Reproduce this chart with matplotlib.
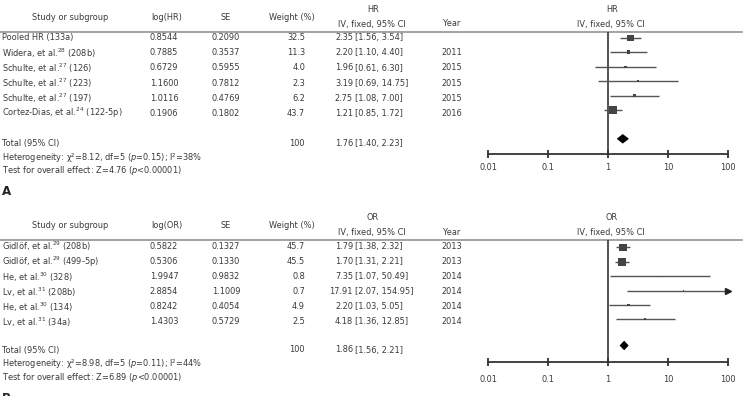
import matplotlib.pyplot as plt
from matplotlib import font_manager
import numpy as np

# pick the narrowest installed sans family
fonts = [(f.name, f.stretch) for f in font_manager.fontManager.ttflist]
names = {n for n, s in fonts}
if 'Liberation Sans Narrow' in names:
    FAM, STRETCH, FS = 'Liberation Sans Narrow', 'normal', 7.2
elif ('DejaVu Sans', 'condensed') in fonts or ('DejaVu Sans', 'semi-condensed') in fonts:
    FAM, STRETCH, FS = 'DejaVu Sans', 'condensed', 6.6
else:
    FAM, STRETCH, FS = 'Liberation Sans', 'normal', 6.4

plt.rcParams['font.family'] = [FAM, 'DejaVu Sans']
plt.rcParams['font.stretch'] = STRETCH
plt.rcParams['mathtext.fontset'] = 'custom'
plt.rcParams['mathtext.rm'] = FAM
plt.rcParams['mathtext.it'] = FAM + ':italic'

W, H = 754, 396
TXT = '#3a3a3a'
MARK = '#444444'

# panel A (HR)
studies_a = ['Pooled HR (133a)', 'Widera, et al.$^{28}$ (208b)', 'Schulte, et al.$^{27}$ (126)',
             'Schulte, et al.$^{27}$ (223)', 'Schulte, et al.$^{27}$ (197)',
             'Cortez-Dias, et al.$^{24}$ (122-5p)']
log_a = [0.8544, 0.7885, 0.6729, 1.1600, 1.0116, 0.1906]
se_a = [0.2090, 0.3537, 0.5955, 0.7812, 0.4769, 0.1802]
weight_a = [32.5, 11.3, 4.0, 2.3, 6.2, 43.7]
est_a = [2.35, 2.20, 1.96, 3.19, 2.75, 1.21]
lo_a = [1.56, 1.10, 0.61, 0.69, 1.08, 0.85]
hi_a = [3.54, 4.40, 6.30, 14.75, 7.00, 1.72]
year_a = ['', '2011', '2015', '2015', '2015', '2016']
total_a = [1.76, 1.40, 2.23]
het_a = r'Heterogeneity: χ²=8.12, df=5 ($p$=0.15); I²=38%'
test_a = r'Test for overall effect: Z=4.76 ($p$<0.00001)'

# panel B (OR)
studies_b = ['Gidlöf, et al.$^{29}$ (208b)', 'Gidlöf, et al.$^{29}$ (499-5p)', 'He, et al.$^{30}$ (328)',
             'Lv, et al.$^{31}$ (208b)', 'He, et al.$^{30}$ (134)', 'Lv, et al.$^{31}$ (34a)']
log_b = [0.5822, 0.5306, 1.9947, 2.8854, 0.8242, 1.4303]
se_b = [0.1327, 0.1330, 0.9832, 1.1009, 0.4054, 0.5729]
weight_b = [45.7, 45.5, 0.8, 0.7, 4.9, 2.5]
est_b = [1.79, 1.70, 7.35, 17.91, 2.20, 4.18]
lo_b = [1.38, 1.31, 1.07, 2.07, 1.03, 1.36]
hi_b = [2.32, 2.21, 50.49, 154.95, 5.05, 12.85]
year_b = ['2013', '2013', '2014', '2014', '2014', '2014']
total_b = [1.86, 1.56, 2.21]
het_b = r'Heterogeneity: χ²=8.98, df=5 ($p$=0.11); I²=44%'
test_b = r'Test for overall effect: Z=6.89 ($p$<0.00001)'

ticks = [0.01, 0.1, 1, 10, 100]
tick_labels = ['0.01', '0.1', '1', '10', '100']

fig = plt.figure(figsize=(W / 100, H / 100), dpi=100)
bg = fig.add_axes([0, 0, 1, 1])
bg.set_xlim(0, W)
bg.set_ylim(H, 0)
bg.axis('off')


def panel(studies, logv, se, weight, est, lo, hi, year, total, het, test, measure, letter,
          top, text0, mark0, tot_y, axis_y, lab_pad):
    kw = dict(fontsize=FS, color=TXT, va='center')
    # headers
    bg.text(70, top + 8, 'Study or subgroup', ha='center', **kw)
    bg.text(167, top + 8, 'log(%s)' % measure, ha='center', **kw)
    bg.text(226, top + 8, 'SE', ha='center', **kw)
    bg.text(292, top + 8, 'Weight (%)', ha='center', **kw)
    bg.text(373, top, measure, ha='center', **kw)
    bg.text(372, top + 15, 'IV, fixed, 95% CI', ha='center', **kw)
    bg.text(452, top + 15, 'Year', ha='center', **kw)
    bg.text(612, top, measure, ha='center', **kw)
    bg.text(611, top + 15, 'IV, fixed, 95% CI', ha='center', **kw)
    line_y = top + 22.5
    bg.plot([0, 742], [line_y, line_y], color='#8a8a8a', lw=1.1)

    for i in range(len(studies)):
        y = text0 + i * 15.05
        bg.text(2, y, studies[i], ha='left', **kw)
        bg.text(164, y, '%.4f' % logv[i], ha='center', **kw)
        bg.text(226, y, '%.4f' % se[i], ha='center', **kw)
        bg.text(305, y, '%.1f' % weight[i], ha='right', **kw)
        bg.text(353, y, '%.2f' % est[i], ha='right', **kw)
        bg.text(355, y, '[%.2f, %.2f]' % (lo[i], hi[i]), ha='left', **kw)
        bg.text(452, y, year[i], ha='center', **kw)

    bg.text(2, tot_y, 'Total (95% CI)', ha='left', **kw)
    bg.text(305, tot_y, '100', ha='right', **kw)
    bg.text(353, tot_y, '%.2f' % total[0], ha='right', **kw)
    bg.text(355, tot_y, '[%.2f, %.2f]' % (total[1], total[2]), ha='left', **kw)
    bg.text(2, tot_y + 13.7, het, ha='left', **kw)
    bg.text(2, tot_y + 27.5, test, ha='left', **kw)
    bg.text(2, tot_y + 48.5, letter, ha='left', fontsize=9.5, fontweight='bold',
            color='#222222', va='center')

    # forest plot
    ax = fig.add_axes([488 / W, 1 - axis_y / H, (728 - 488) / W, (axis_y - line_y) / H])
    ax.set_xscale('log')
    ax.set_xlim(0.01, 100)
    ax.set_ylim(axis_y, line_y)
    ax.patch.set_visible(False)
    for s in ['left', 'right', 'top']:
        ax.spines[s].set_visible(False)
    ax.spines['bottom'].set_linewidth(1.3)
    ax.spines['bottom'].set_color('#333333')
    ax.set_yticks([])
    ax.set_xticks(ticks)
    ax.set_xticklabels(tick_labels)
    ax.xaxis.set_minor_locator(plt.NullLocator())
    ax.tick_params(axis='x', direction='inout', length=5.5, width=1.3, color='#333333',
                   labelsize=FS, labelcolor=TXT, pad=lab_pad)
    ax.axvline(1, color='#444444', lw=1.3, zorder=1)

    rows = mark0 + np.arange(len(est)) * 14.38
    hi_c = np.minimum(hi, 100)
    ax.hlines(rows, lo, hi_c, color='#555555', lw=1.0, zorder=2)
    side = 1.15 * np.sqrt(weight) * 0.72
    ax.scatter(est, rows, marker='s', s=side ** 2, color=MARK, linewidths=0, zorder=3)
    for i in range(len(hi)):
        if hi[i] > 100:
            ax.plot(100, rows[i], marker='>', ms=4.5, color='#222222', clip_on=False, zorder=4)
    dy = 4.8
    ax.fill([total[1], total[0], total[2], total[0]],
            [tot_y - 4.5, tot_y - 4.5 - dy, tot_y - 4.5, tot_y - 4.5 + dy],
            color='black', lw=0, zorder=4)


panel(studies_a, log_a, se_a, weight_a, est_a, lo_a, hi_a, year_a, total_a, het_a, test_a,
      'HR', 'A', top=9, text0=37.9, mark0=38.0, tot_y=143.3, axis_y=153.7, lab_pad=4.0)
panel(studies_b, log_b, se_b, weight_b, est_b, lo_b, hi_b, year_b, total_b, het_b, test_b,
      'OR', 'B', top=217.5, text0=246.7, mark0=247.4, tot_y=350, axis_y=362, lab_pad=6.5)

fig.savefig('out.png', dpi=100)
